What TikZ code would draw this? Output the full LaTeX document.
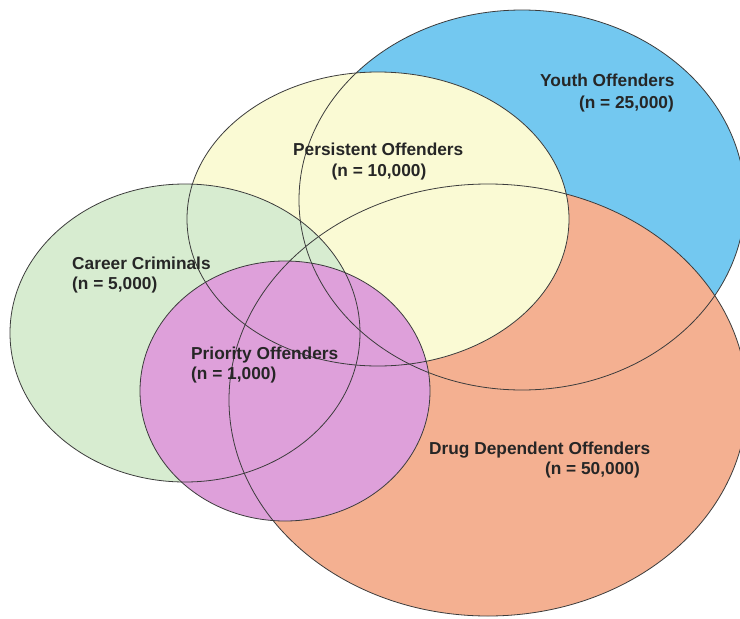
\documentclass[tikz,border=0pt]{standalone}
\usepackage{fontspec}
\setmainfont{Liberation Sans}
\usepackage{tikz}

\definecolor{youthblue}{RGB}{115,200,240}
\definecolor{drugorange}{RGB}{244,176,145}
\definecolor{persistyellow}{RGB}{250,250,212}
\definecolor{careergreen}{RGB}{215,236,208}
\definecolor{prioritypink}{RGB}{222,160,218}
\definecolor{ringgray}{RGB}{60,60,60}

\begin{document}
\begin{tikzpicture}
  [x=1pt, y=-1pt,
   ring/.style={draw=ringgray, line width=0.8pt},
   lbl/.style={inner sep=0pt, text=black!85, font=\fontsize{17.3}{22}\selectfont\bfseries}]
  \useasboundingbox (0,0) rectangle (740,619);
  \fill[white] (0,0) rectangle (740,619);
  % fills, back to front
  \fill[youthblue] (522,200) ellipse [x radius=223pt, y radius=190pt];
  \fill[drugorange] (488,400) ellipse [x radius=259pt, y radius=216pt];
  \fill[persistyellow] (378,219) ellipse [x radius=191pt, y radius=147pt];
  \fill[careergreen] (185,333) ellipse [x radius=175pt, y radius=149pt];
  \fill[prioritypink] (285,391) ellipse [x radius=145pt, y radius=130pt];
  % outlines on top
  \draw[ring] (522,200) ellipse [x radius=223pt, y radius=190pt];
  \draw[ring] (488,400) ellipse [x radius=259pt, y radius=216pt];
  \draw[ring] (378,219) ellipse [x radius=191pt, y radius=147pt];
  \draw[ring] (185,333) ellipse [x radius=175pt, y radius=149pt];
  \draw[ring] (285,391) ellipse [x radius=145pt, y radius=130pt];
  % labels
  \node (youth) [lbl, anchor=base west] at (540,86) {Youth Offenders};
  \node (youthn) [lbl, anchor=base east] at (674,108) {(n = 25,000)};
  \node (persist) [lbl, anchor=base west] at (293,155) {Persistent Offenders};
  \node (persistn) [lbl, anchor=base] at (379,176) {(n = 10,000)};
  \node (career) [lbl, anchor=base west] at (72,269) {Career Criminals};
  \node (careern) [lbl, anchor=base west] at (72,289) {(n = 5,000)};
  \node (priority) [lbl, anchor=base west] at (191,359) {Priority Offenders};
  \node (priorityn) [lbl, anchor=base west] at (191,379) {(n = 1,000)};
  \node (drug) [lbl, anchor=base west] at (429,454) {Drug Dependent Offenders};
  \node (drugn) [lbl, anchor=base east] at (640,474) {(n = 50,000)};
\end{tikzpicture}
\end{document}
